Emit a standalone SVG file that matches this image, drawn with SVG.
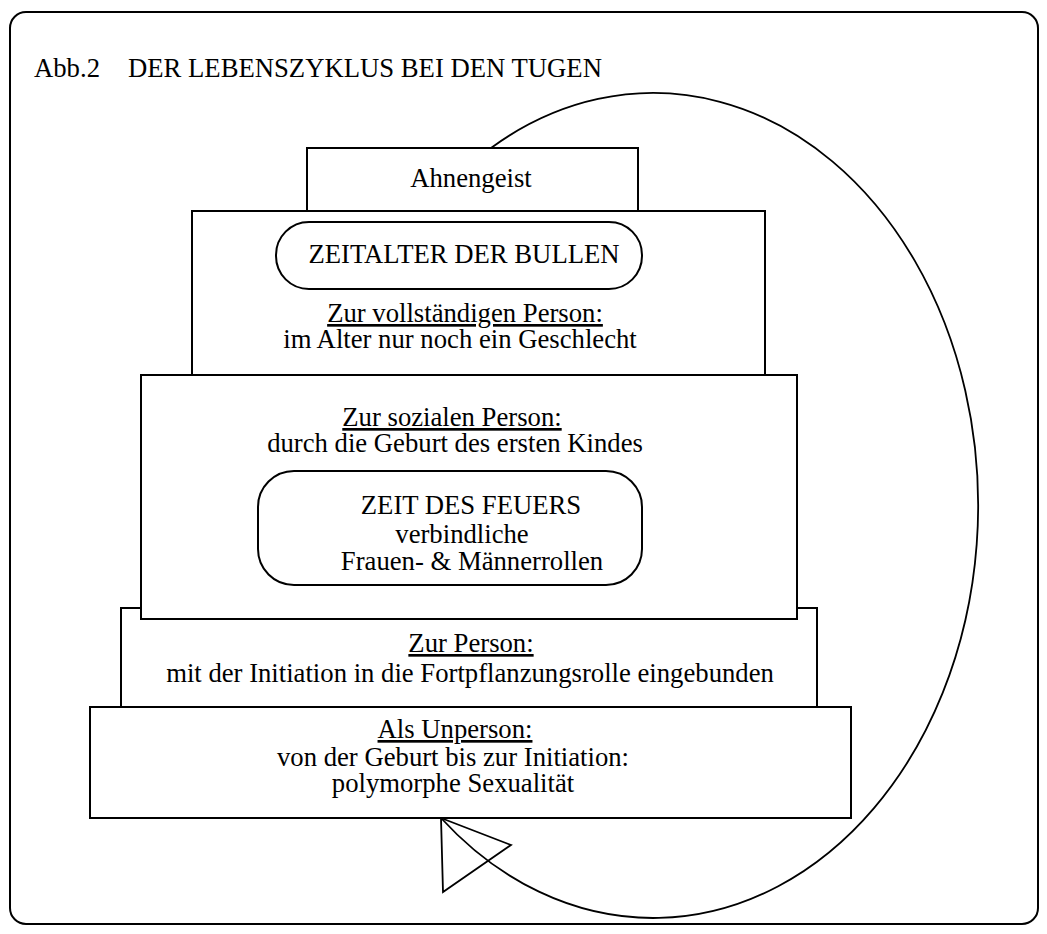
<svg xmlns="http://www.w3.org/2000/svg" width="1047" height="934" viewBox="0 0 1047 934">
<style>
text{font-family:"Liberation Serif","DejaVu Serif",serif;font-size:26.7px;fill:#000}
.c{text-anchor:middle}
.u{text-decoration:underline}
.box{fill:#fff;stroke:#000;stroke-width:2}
.line{fill:none;stroke:#000;stroke-width:1.8}
</style>
<rect width="1047" height="934" fill="#fff"/>
<rect id="frame" x="10" y="12" width="1028" height="912" rx="16" fill="none" stroke="#000" stroke-width="2"/>
<text id="title" y="77"><tspan x="34">Abb.2</tspan><tspan x="128">DER LEBENSZYKLUS BEI DEN TUGEN</tspan></text>
<g id="connectors">
<path class="line" d="M 491 148 A 325 412.5 0 1 1 441 818"/>
<polygon class="line" points="441,818 511,845 443,892"/>
</g>
<g id="ahnengeist">
<rect class="box" x="307" y="148" width="331" height="63"/>
<text class="c" x="471" y="187">Ahnengeist</text>
</g>
<g id="unperson">
<rect class="box" x="90" y="707" width="761" height="111"/>
<text class="c u" x="455" y="738">Als Unperson:</text>
<text class="c" x="453" y="766">von der Geburt bis zur Initiation:</text>
<text class="c" x="453" y="792">polymorphe Sexualität</text>
</g>
<g id="person">
<rect class="box" x="121" y="608" width="696" height="99"/>
<text class="c u" x="471" y="652">Zur Person:</text>
<text class="c" x="470" y="682">mit der Initiation in die Fortpflanzungsrolle eingebunden</text>
</g>
<g id="vollstaendige">
<rect class="box" x="192" y="211" width="573" height="164"/>
<text class="c u" x="465" y="322">Zur vollständigen Person:</text>
<text class="c" x="460" y="348">im Alter nur noch ein Geschlecht</text>
</g>
<g id="bullen">
<rect class="box" x="276" y="222" width="366" height="67" rx="33"/>
<text class="c" x="464" y="263">ZEITALTER DER BULLEN</text>
</g>
<g id="soziale">
<rect class="box" x="141" y="375" width="656" height="244"/>
<text class="c u" x="452" y="426">Zur sozialen Person:</text>
<text class="c" x="455" y="452">durch die Geburt des ersten Kindes</text>
</g>
<g id="feuer">
<rect class="box" x="258" y="471" width="384" height="114" rx="36"/>
<text class="c" x="471" y="514">ZEIT DES FEUERS</text>
<text class="c" x="462" y="543">verbindliche</text>
<text class="c" x="472" y="570">Frauen- &amp; Männerrollen</text>
</g>
</svg>
